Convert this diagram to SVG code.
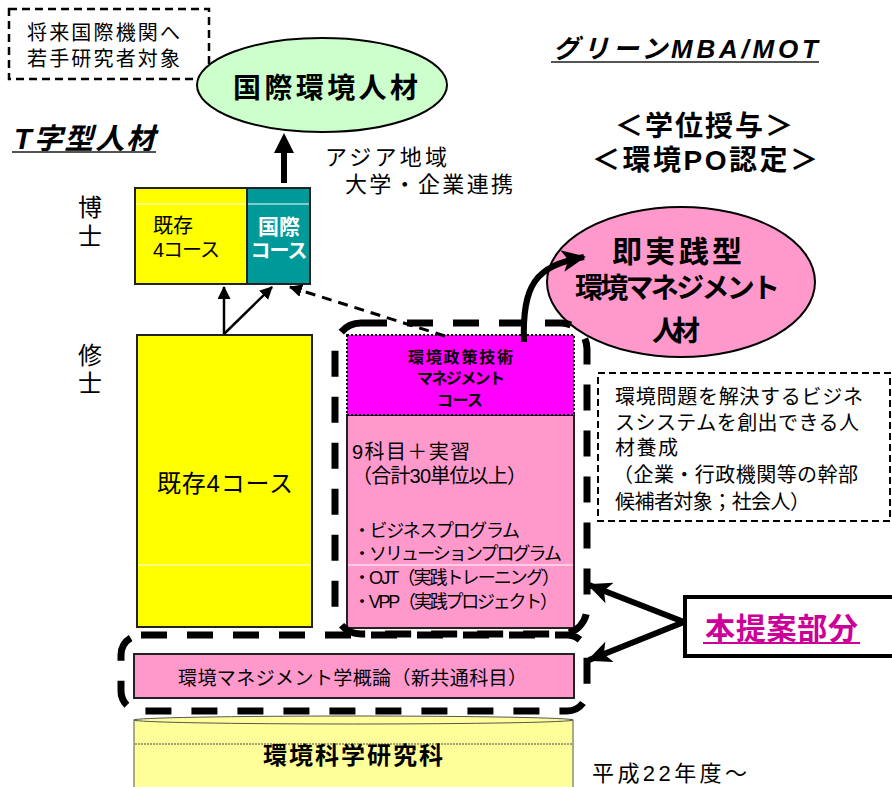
<svg xmlns="http://www.w3.org/2000/svg" width="892" height="787" viewBox="0 0 892 787">
<style>
text{font-family:"Liberation Sans","Noto Sans CJK JP",sans-serif;fill:#000}
.b{font-weight:bold}
.bx{stroke:#222;stroke-width:2}
.thin{fill:none;stroke:#000;stroke-width:2.5}
.thick{fill:none;stroke:#000;stroke-width:6}
.dash{fill:none;stroke:#000;stroke-width:7;stroke-dasharray:26 20}
</style>
<defs>
<marker id="ah" viewBox="0 0 12 12" refX="11" refY="6" markerWidth="13" markerHeight="13" markerUnits="userSpaceOnUse" orient="auto"><path d="M0,0 L12,6 L0,12 z" fill="#000"/></marker>
<marker id="ahb" viewBox="0 0 24 22" refX="22" refY="11" markerWidth="24" markerHeight="22" markerUnits="userSpaceOnUse" orient="auto"><path d="M0,0 L24,11 L0,22 L6,11 z" fill="#000"/></marker>
</defs>
<rect width="892" height="787" fill="#fff"/>

<g id="note-top">
<rect x="9" y="9" width="200" height="70" fill="#fff" stroke="#000" stroke-width="2.5" stroke-dasharray="8 5"/>
<text x="27" y="40" font-size="20" textLength="153" lengthAdjust="spacing">将来国際機関へ</text>
<text x="27" y="66" font-size="20" textLength="153" lengthAdjust="spacing">若手研究者対象</text>
</g>

<g id="intl-talent">
<ellipse cx="322" cy="85" rx="125" ry="47" fill="#ccffcc" stroke="#000" stroke-width="2"/>
<text x="233" y="98" font-size="28" class="b" textLength="185" lengthAdjust="spacing">国際環境人材</text>
</g>

<g id="t-title">
<text x="14" y="149" font-size="29" class="b" font-style="italic" textLength="141" lengthAdjust="spacing">T字型人材</text>
<line x1="12" y1="152" x2="156" y2="152" stroke="#555" stroke-width="2"/>
</g>

<g id="mba-title">
<text x="553" y="58" font-size="26" class="b" font-style="italic" textLength="265" lengthAdjust="spacing">グリーンMBA/MOT</text>
<line x1="551" y1="62" x2="819" y2="62" stroke="#555" stroke-width="2"/>
<text x="615" y="136" font-size="28" class="b" textLength="178" lengthAdjust="spacing">＜学位授与＞</text>
<text x="592" y="170" font-size="28" class="b" textLength="226" lengthAdjust="spacing">＜環境PO認定＞</text>
</g>

<g id="asia-label">
<text x="325" y="165" font-size="22" textLength="122" lengthAdjust="spacing">アジア地域</text>
<text x="345" y="192" font-size="22" textLength="168" lengthAdjust="spacing">大学・企業連携</text>
</g>

<g id="level-labels">
<text x="90" y="216" font-size="24" text-anchor="middle">博</text>
<text x="90" y="245" font-size="24" text-anchor="middle">士</text>
<text x="90" y="364" font-size="24" text-anchor="middle">修</text>
<text x="90" y="392" font-size="24" text-anchor="middle">士</text>
</g>

<g id="dr-existing">
<rect x="135" y="188" width="112" height="96" fill="#ffff00" class="bx"/>
<line x1="136" y1="204" x2="246" y2="204" stroke="#fff" stroke-width="1"/>
<text x="153" y="233" font-size="20" textLength="40" lengthAdjust="spacing">既存</text>
<text x="153" y="257" font-size="20" textLength="67" lengthAdjust="spacing">4コース</text>
</g>

<g id="dr-intl">
<rect x="247" y="188" width="63" height="96" fill="#009999" class="bx"/>
<line x1="248" y1="204" x2="309" y2="204" stroke="#fff" stroke-width="1"/>
<text x="279" y="234" font-size="21" class="b" text-anchor="middle" style="fill:#fff">国際</text>
<text x="279" y="258" font-size="20" class="b" text-anchor="middle" style="fill:#fff" textLength="57" lengthAdjust="spacing">コース</text>
</g>

<g id="ms-existing">
<rect x="137" y="335" width="175" height="292" fill="#ffff00" class="bx"/>
<line x1="138" y1="565" x2="311" y2="565" stroke="#fff" stroke-width="1"/>
<text x="157" y="492" font-size="24" textLength="136" lengthAdjust="spacing">既存4コース</text>
</g>

<g id="ms-mgmt">
<rect x="347" y="415" width="227" height="213" fill="#ff99cc" class="bx"/>
<rect x="347" y="335" width="227" height="80" fill="#ff00ff" stroke="#000" stroke-width="2" stroke-dasharray="2 2"/>
<line x1="348" y1="565" x2="573" y2="565" stroke="#fff" stroke-width="1"/>
<text x="408" y="363" font-size="16" class="b" textLength="105" lengthAdjust="spacing">環境政策技術</text>
<text x="417" y="384" font-size="16" class="b" textLength="88" lengthAdjust="spacing">マネジメント</text>
<text x="437" y="406" font-size="16" class="b" textLength="46" lengthAdjust="spacing">コース</text>
<text x="352" y="459" font-size="20" textLength="118" lengthAdjust="spacing">9科目＋実習</text>
<text x="352" y="483" font-size="20" textLength="175" lengthAdjust="spacing">（合計30単位以上）</text>
<text x="353" y="537" font-size="18" textLength="167" lengthAdjust="spacing">・ビジネスプログラム</text>
<text x="353" y="560" font-size="18" textLength="209" lengthAdjust="spacing">・ソリューションプログラム</text>
<text x="353" y="584" font-size="18" textLength="207" lengthAdjust="spacing">・OJT（実践トレーニング）</text>
<text x="353" y="608" font-size="18" textLength="205" lengthAdjust="spacing">・VPP（実践プロジェクト）</text>
</g>

<g id="practical-talent">
<ellipse cx="681" cy="282" rx="134" ry="75" fill="#ff99cc" stroke="#000" stroke-width="2"/>
<text x="612" y="262" font-size="30" class="b" textLength="130" lengthAdjust="spacing">即実践型</text>
<text x="575" y="298" font-size="28" class="b" textLength="205" lengthAdjust="spacing">環境マネジメント</text>
<text x="652" y="341" font-size="28" class="b" textLength="48" lengthAdjust="spacing">人材</text>
</g>

<g id="note-right">
<rect x="598" y="373" width="292" height="148" fill="#fff" stroke="#000" stroke-width="2" stroke-dasharray="7 4"/>
<text x="615" y="404" font-size="20" textLength="248" lengthAdjust="spacing">環境問題を解決するビジネ</text>
<text x="615" y="430" font-size="20" textLength="244" lengthAdjust="spacing">スシステムを創出できる人</text>
<text x="615" y="455" font-size="20" textLength="63" lengthAdjust="spacing">材養成</text>
<text x="613" y="482" font-size="20" textLength="245" lengthAdjust="spacing">（企業・行政機関等の幹部</text>
<text x="615" y="509" font-size="20" textLength="195" lengthAdjust="spacing">候補者対象；社会人）</text>
</g>

<g id="common-subject">
<rect x="134" y="654" width="440" height="44" fill="#ff99cc" class="bx"/>
<text x="178" y="685" font-size="19" textLength="349" lengthAdjust="spacing">環境マネジメント学概論（新共通科目）</text>
</g>

<g id="graduate-school">
<rect x="134" y="720" width="439" height="80" fill="#ffff99" stroke="#555" stroke-width="1"/>
<ellipse cx="353.5" cy="720" rx="219.5" ry="4" fill="#ffff99" stroke="#555" stroke-width="1"/>
<line x1="135" y1="744" x2="572" y2="744" stroke="#444" stroke-width="1" stroke-dasharray="2 1"/>
<text x="263" y="764" font-size="24" class="b" textLength="180" lengthAdjust="spacing">環境科学研究科</text>
</g>

<g id="year">
<text x="592" y="781" font-size="22" textLength="155" lengthAdjust="spacing">平成22年度～</text>
</g>

<g id="proposal">
<rect x="685" y="597" width="215" height="59" fill="#fff" stroke="#000" stroke-width="4"/>
<text x="705" y="639" font-size="30" class="b" style="fill:#cc0099" textLength="153" lengthAdjust="spacing">本提案部分</text>
<line x1="703" y1="643" x2="860" y2="643" stroke="#cc0099" stroke-width="2"/>
</g>

<g id="regions">
<rect x="335" y="323" width="252" height="311" rx="26" class="dash"/>
<rect x="121" y="635" width="466" height="76" rx="20" class="dash"/>
</g>

<g id="connectors">
<path d="M284,183 V152" stroke="#000" stroke-width="6" fill="none"/>
<path d="M274,153 L284,133 L294,153 z" fill="#000"/>
<line x1="224" y1="334" x2="224" y2="287" class="thin" marker-end="url(#ah)"/>
<line x1="224" y1="334" x2="272" y2="287" class="thin" marker-end="url(#ah)"/>
<line x1="445" y1="336" x2="290" y2="287" stroke="#000" stroke-width="3" stroke-dasharray="10 7" marker-end="url(#ah)"/>
<path d="M524,342 C522,285 535,266 584,257" class="thick" marker-end="url(#ahb)"/>
<line x1="684" y1="622" x2="589" y2="585" class="thick" marker-end="url(#ahb)"/>
<line x1="684" y1="622" x2="589" y2="660" class="thick" marker-end="url(#ahb)"/>
</g>
</svg>
